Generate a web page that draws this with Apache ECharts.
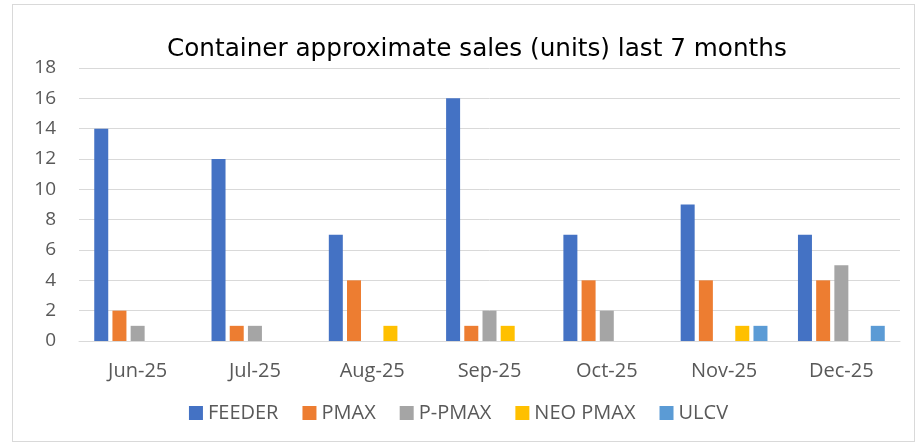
<!DOCTYPE html>
<html>
<head>
<meta charset="utf-8">
<script src="https://cdn.jsdelivr.net/npm/echarts@6/dist/echarts.min.js"></script>
<style>
  html, body { margin: 0; padding: 0; background: #fff; }
  #frame {
    position: absolute; left: 12px; top: 4px; width: 903px; height: 438px;
    border: 1px solid #d9d9d9; box-sizing: border-box;
  }
  #chart { position: absolute; left: 0; top: 0; width: 917px; height: 444px; }
</style>
</head>
<body>
<div id="frame"></div>
<div id="chart"></div>
<script>
// data
var months = ["Jun-25", "Jul-25", "Aug-25", "Sep-25", "Oct-25", "Nov-25", "Dec-25"];
var feeder = [14, 12, 7, 16, 7, 9, 7];
var pmax = [2, 1, 4, 1, 4, 4, 4];
var ppmax = [1, 1, 0, 2, 2, 0, 5];
var neoPmax = [0, 0, 1, 1, 0, 1, 0];
var ulcv = [0, 0, 0, 0, 0, 1, 1];

var names = ["FEEDER", "PMAX", "P-PMAX", "NEO PMAX", "ULCV"];
var colors = ["#4472C4", "#ED7D31", "#A5A5A5", "#FFC000", "#5B9BD5"];
var values = [feeder, pmax, ppmax, neoPmax, ulcv];

var font = "'Open Sans', 'Liberation Sans', sans-serif";

var series = [];
for (var i = 0; i < names.length; i++) {
  series.push({
    name: names[i],
    type: "bar",
    data: values[i],
    barWidth: 14,
    barGap: "30%",
    itemStyle: { color: colors[i] }
  });
}

var myChart = echarts.init(document.getElementById("chart"));
var option = {
  animation: false,
  color: colors,
  title: {
    text: "Container approximate sales (units) last 7 months",
    left: 162,
    top: 32,
    textStyle: {
      fontFamily: "'DejaVu Sans', sans-serif",
      fontSize: 24.7,
      fontWeight: "normal",
      color: "#000"
    }
  },
  grid: { left: 79, right: 17, top: 68, bottom: 103 },
  legend: {
    top: 398,
    left: "center",
    itemWidth: 14,
    itemHeight: 14,
    itemGap: 24,
    icon: "rect",
    textStyle: { fontFamily: font, fontSize: 20, color: "#595959" },
    data: names
  },
  xAxis: {
    type: "category",
    data: months,
    axisLine: { lineStyle: { color: "#d9d9d9" } },
    axisTick: { show: false },
    axisLabel: { margin: 20, fontFamily: font, fontSize: 20, color: "#595959" }
  },
  yAxis: {
    type: "value",
    min: 0,
    max: 18,
    interval: 2,
    axisLine: { show: false },
    axisTick: { show: false },
    axisLabel: { margin: 23, fontFamily: font, fontSize: 19, color: "#595959" },
    splitLine: { lineStyle: { color: "#d9d9d9", width: 1 } }
  },
  series: series
};
myChart.setOption(option);
</script>
</body>
</html>
